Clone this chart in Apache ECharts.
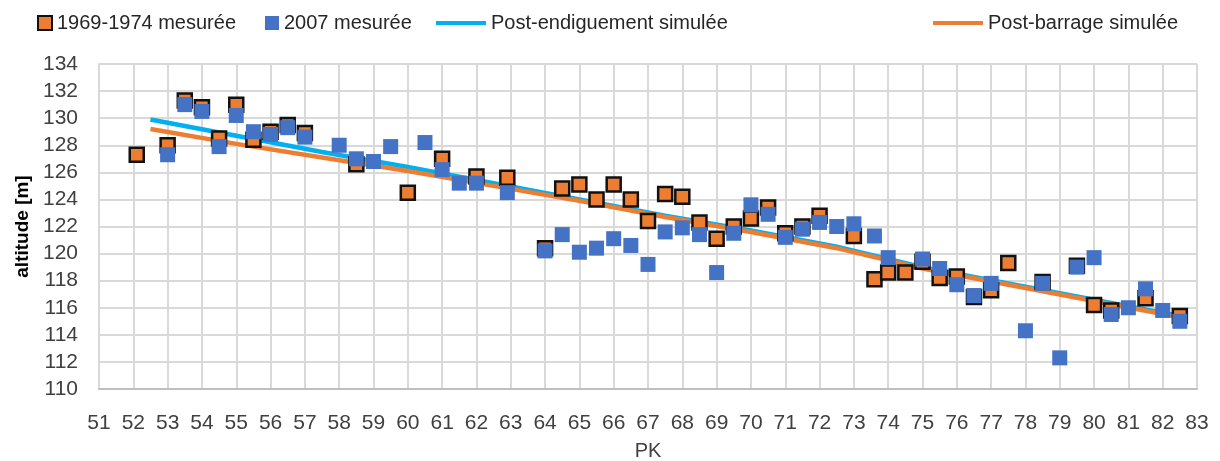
<!DOCTYPE html>
<html>
<head>
    <meta charset="utf-8">
    <title>Profil en long</title>
    <script src="https://cdn.jsdelivr.net/npm/echarts@6/dist/echarts.min.js"></script>
    <style>
        body { margin: 0; background: #fff; }
    </style>
</head>
<body>
<div id="main" style="width: 1220px;height:461px;"></div>
<script type="text/javascript">
    // donnees mesurees 1969-1974
    var pk1969 = [52.1, 53.0, 53.5, 54.0, 54.5, 55.0, 55.5, 56.0, 56.5, 57.0, 58.5, 60.0, 61.0, 62.0, 62.9,
        64.0, 64.5, 65.0, 65.5, 66.0, 66.5, 67.0, 67.5, 68.0, 68.5, 69.0, 69.5, 70.0, 70.5, 71.0, 71.5, 72.0,
        73.0, 73.6, 74.0, 74.5, 75.0, 75.5, 76.0, 76.5, 77.0, 77.5, 78.5, 79.5, 80.0, 80.5, 81.5, 82.5];
    var alt1969 = [127.3, 128.0, 131.3, 130.8, 128.5, 131.0, 128.4, 129.0, 129.5, 128.9, 126.6, 124.5, 127.0, 125.7, 125.6,
        120.4, 124.8, 125.1, 124.0, 125.1, 124.0, 122.4, 124.4, 124.2, 122.3, 121.1, 122.0, 122.6, 123.4, 121.5, 122.0, 122.8,
        121.3, 118.1, 118.6, 118.6, 119.4, 118.2, 118.3, 116.8, 117.3, 119.3, 117.9, 119.1, 116.2, 115.8, 116.7, 115.4];

    // donnees mesurees 2007
    var pk2007 = [53.0, 53.5, 54.0, 54.5, 55.0, 55.5, 56.0, 56.5, 57.0, 58.0, 58.5, 59.0, 59.5, 60.5, 61.0, 61.5, 62.0, 62.9,
        64.0, 64.5, 65.0, 65.5, 66.0, 66.5, 67.0, 67.5, 68.0, 68.5, 69.0, 69.5, 70.0, 70.5, 71.0, 71.5, 72.0, 72.5, 73.0,
        73.6, 74.0, 75.0, 75.5, 76.0, 76.5, 77.0, 78.0, 78.5, 79.0, 79.5, 80.0, 80.5, 81.0, 81.5, 82.0, 82.5];
    var alt2007 = [127.3, 131.0, 130.5, 127.9, 130.2, 129.0, 128.8, 129.3, 128.6, 128.0, 127.0, 126.8, 127.9, 128.2, 126.2, 125.2, 125.2, 124.5,
        120.2, 121.4, 120.1, 120.4, 121.1, 120.6, 119.2, 121.6, 121.9, 121.4, 118.6, 121.5, 123.6, 122.9, 121.2, 121.8, 122.3, 122.0, 122.2,
        121.3, 119.7, 119.6, 118.9, 117.7, 116.9, 117.8, 114.3, 117.8, 112.3, 119.0, 119.7, 115.5, 116.0, 117.4, 115.8, 115.0];

    // profils simules
    var pkSim = [52.5, 55.0, 57.5, 60.0, 62.5, 65.0, 67.5, 70.0, 72.5, 75.0, 77.5, 80.0, 82.5];
    var altEndiguement = [129.9, 128.7, 127.5, 126.4, 125.2, 124.0, 122.8, 121.7, 120.5, 119.0, 117.8, 116.6, 115.4];
    var altBarrage = [129.2, 128.1, 127.1, 126.1, 125.0, 123.9, 122.7, 121.6, 120.4, 118.9, 117.7, 116.5, 115.3];

    function pairs(xs, ys) {
        var out = [];
        for (var i = 0; i < xs.length; i++) {
            out.push([xs[i], ys[i]]);
        }
        return out;
    }

    var font = 'Liberation Sans';
    var legendText = {fontSize: 20, color: '#262626', fontFamily: font};

    // une legende par entree pour les placer comme sur l'original
    function legendItem(name, left, w, h) {
        return {
            left: left,
            top: 8,
            itemWidth: w,
            itemHeight: h,
            textStyle: legendText,
            data: [{name: name, icon: 'rect'}]
        };
    }

    var myChart = echarts.init(document.getElementById('main'), null, {renderer: 'canvas'});

    var option = {
        animation: false,
        textStyle: {fontFamily: font},
        legend: [
            legendItem('1969-1974 mesurée', 32, 14, 14),
            legendItem('2007 mesurée', 260, 14, 14),
            legendItem('Post-endiguement simulée', 431, 50, 4),
            legendItem('Post-barrage simulée', 928, 50, 4)
        ],
        grid: {
            left: 99,
            right: 23,
            top: 64,
            bottom: 72,
            outerBoundsMode: 'none',
            containLabel: false
        },
        xAxis: {
            type: 'value',
            name: 'PK',
            nameLocation: 'middle',
            nameGap: 52,
            nameTextStyle: {fontSize: 20, color: '#404040'},
            min: 51,
            max: 83,
            interval: 1,
            axisLine: {lineStyle: {color: '#bfbfbf', width: 2}},
            axisTick: {show: false},
            axisLabel: {fontSize: 21, color: '#404040', margin: 24},
            splitLine: {show: true, lineStyle: {color: '#d9d9d9', width: 2}}
        },
        yAxis: {
            type: 'value',
            name: 'altitude [m]',
            nameLocation: 'middle',
            nameGap: 66,
            nameTextStyle: {fontSize: 19, fontWeight: 'bold', color: '#000'},
            min: 110,
            max: 134,
            interval: 2,
            axisLine: {show: true, lineStyle: {color: '#d9d9d9', width: 2}},
            axisTick: {show: false},
            axisLabel: {fontSize: 21, color: '#404040', margin: 21},
            splitLine: {show: true, lineStyle: {color: '#d9d9d9', width: 2}}
        },
        series: [
            {
                name: '1969-1974 mesurée',
                type: 'scatter',
                symbol: 'rect',
                symbolSize: 14,
                z: 5,
                itemStyle: {color: '#ED7D31', borderColor: '#111', borderWidth: 2.5, opacity: 1},
                data: pairs(pk1969, alt1969)
            },
            {
                name: '2007 mesurée',
                type: 'scatter',
                symbol: 'rect',
                symbolSize: 15,
                z: 6,
                itemStyle: {color: '#4472C4', opacity: 1},
                data: pairs(pk2007, alt2007)
            },
            {
                name: 'Post-endiguement simulée',
                type: 'line',
                showSymbol: false,
                symbol: 'none',
                z: 2,
                itemStyle: {color: '#00B0F0'},
                lineStyle: {color: '#00B0F0', width: 4.5},
                data: pairs(pkSim, altEndiguement)
            },
            {
                name: 'Post-barrage simulée',
                type: 'line',
                showSymbol: false,
                symbol: 'none',
                z: 3,
                itemStyle: {color: '#ED7D31'},
                lineStyle: {color: '#ED7D31', width: 4.5},
                data: pairs(pkSim, altBarrage)
            }
        ]
    };

    myChart.setOption(option);
</script>
</body>
</html>
